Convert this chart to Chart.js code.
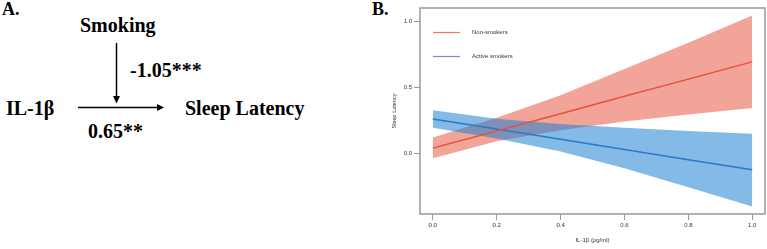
<!DOCTYPE html>
<html>
<head>
<meta charset="utf-8">
<script src="https://cdn.jsdelivr.net/npm/chart.js@4/dist/chart.umd.min.js"></script>
<style>
  html, body { margin: 0; padding: 0; background: #fff; }
  #page { position: relative; width: 767px; height: 249px; overflow: hidden; }
  #diagram { position: absolute; left: 0; top: 0; }
  #diagram text { font-family: "Liberation Serif", "Times New Roman", serif; font-weight: bold; fill: #000; }
  #wrap { position: absolute; left: 370px; top: 0; width: 397px; height: 249px; }
</style>
</head>
<body>
<div id="page">
  <svg id="diagram" width="400" height="249">
    <text x="2" y="15" font-size="18">A.</text>
    <text x="80" y="32" font-size="20">Smoking</text>
    <text x="130" y="77" font-size="20">-1.05***</text>
    <text x="6" y="115" font-size="20">IL-1β</text>
    <text x="185" y="115" font-size="20">Sleep Latency</text>
    <text x="88" y="138" font-size="20">0.65**</text>
    <line x1="116.5" y1="43" x2="116.5" y2="97" stroke="#000" stroke-width="1.5"/>
    <polygon points="113,96 120,96 116.5,103.5" fill="#000"/>
    <line x1="78" y1="107.5" x2="158" y2="107.5" stroke="#000" stroke-width="1.5"/>
    <polygon points="157,104 157,111 164,107.5" fill="#000"/>
    <text x="372" y="15" font-size="18">B.</text>
  </svg>
  <div id="wrap"><canvas id="chart" width="397" height="249"></canvas></div>
</div>
<script>
// IL-1β values (pg/ml) where the curves were read
var xValues = [0, 0.2, 0.4, 0.6, 0.8, 1.0];
var nonSmokersFit   = [0.038, 0.169, 0.300, 0.432, 0.563, 0.694];
var nonSmokersUpper = [0.118, 0.270, 0.440, 0.640, 0.840, 1.046];
var nonSmokersLower = [-0.038, 0.090, 0.175, 0.240, 0.293, 0.344];
var activeFit   = [0.260, 0.183, 0.105, 0.028, -0.050, -0.127];
var activeUpper = [0.327, 0.262, 0.222, 0.193, 0.169, 0.148];
var activeLower = [0.194, 0.112, 0.012, -0.115, -0.260, -0.405];
var xTicks = [0, 0.2, 0.4, 0.6, 0.8, 1.0];
var yTicks = [0, 0.5, 1.0];

function pts(ys) {
    return xValues.map(function(x, i) { return {x: x, y: ys[i]}; });
}

function band(ys, fill, color) {
    return {
        data: pts(ys), fill: fill, backgroundColor: color,
        borderWidth: 0, pointRadius: 0
    };
}

var boxPlugin = {
    id: 'box',
    afterDatasetsDraw: function(chart) {
        var a = chart.chartArea, ctx = chart.ctx;
        ctx.save();
        ctx.strokeStyle = '#999';
        ctx.lineWidth = 1.5;
        ctx.strokeRect(a.left, a.top, a.right - a.left, a.bottom - a.top);
        ctx.restore();
    }
};

var legendPlugin = {
    id: 'innerLegend',
    afterDatasetsDraw: function(chart) {
        var ctx = chart.ctx;
        ctx.save();
        ctx.font = '6px "Liberation Sans", Arial, sans-serif';
        ctx.textBaseline = 'middle';
        ctx.textAlign = 'left';
        [0, 1].forEach(function(i) {
            var ds = chart.data.datasets[i];
            var y = 32.5 + i * 24;
            ctx.strokeStyle = ds.legendColor;
            ctx.lineWidth = 1.2;
            ctx.beginPath();
            ctx.moveTo(63, y);
            ctx.lineTo(90, y);
            ctx.stroke();
            ctx.fillStyle = '#333';
            ctx.fillText(ds.label, 102, y);
        });
        ctx.restore();
    }
};

new Chart(document.getElementById('chart').getContext('2d'), {
    type: 'line',
    data: {
        datasets: [
            {label: 'Non-smokers', data: pts(nonSmokersFit), borderColor: '#e8503c', legendColor: '#f07a6a',
             borderWidth: 1.5, pointRadius: 0, fill: false},
            {label: 'Active smokers', data: pts(activeFit), borderColor: '#2a78c8', legendColor: '#8a88b8',
             borderWidth: 1.5, pointRadius: 0, fill: false},
            band(activeUpper, '+1', 'rgba(30,130,210,0.55)'),
            band(activeLower, false, 'rgba(0,0,0,0)'),
            band(nonSmokersUpper, '+1', 'rgba(232,80,60,0.52)'),
            band(nonSmokersLower, false, 'rgba(0,0,0,0)')
        ]
    },
    options: {
        responsive: false,
        animation: false,
        events: [],
        layout: { padding: { top: 8, right: 2, left: 0, bottom: 0 } },
        plugins: { legend: { display: false }, tooltip: { enabled: false } },
        scales: {
            x: {
                type: 'linear', min: -0.04, max: 1.04,
                afterBuildTicks: function(axis) { axis.ticks = xTicks.map(function(v) { return {value: v}; }); },
                afterFit: function(axis) { axis.height = 35; },
                grid: { drawOnChartArea: false, drawTicks: true, tickLength: 6, tickColor: '#999' },
                border: { display: false },
                ticks: {
                    font: { size: 6, family: '"Liberation Sans", Arial, sans-serif' }, color: '#333', padding: 2,
                    maxRotation: 0, autoSkip: false,
                    callback: function(v) { return v.toFixed(1); }
                },
                title: {
                    display: true, text: 'IL-1β (pg/ml)', color: '#333',
                    font: { size: 6, family: '"Liberation Sans", Arial, sans-serif' },
                    padding: { top: 0, bottom: 5 }
                }
            },
            y: {
                min: -0.463, max: 1.104,
                afterBuildTicks: function(axis) { axis.ticks = yTicks.map(function(v) { return {value: v}; }); },
                afterFit: function(axis) { axis.width = 50; },
                grid: { drawOnChartArea: false, drawTicks: true, tickLength: 6, tickColor: '#999' },
                border: { display: false },
                ticks: {
                    font: { size: 6, family: '"Liberation Sans", Arial, sans-serif' }, color: '#333', padding: 2,
                    autoSkip: false,
                    callback: function(v) { return v.toFixed(1); }
                },
                title: {
                    display: true, text: 'Sleep Latency', color: '#333',
                    font: { size: 5.5, family: '"Liberation Sans", Arial, sans-serif' },
                    padding: { top: 21, bottom: 0 }
                }
            }
        }
    },
    plugins: [boxPlugin, legendPlugin]
});
</script>
</body>
</html>
